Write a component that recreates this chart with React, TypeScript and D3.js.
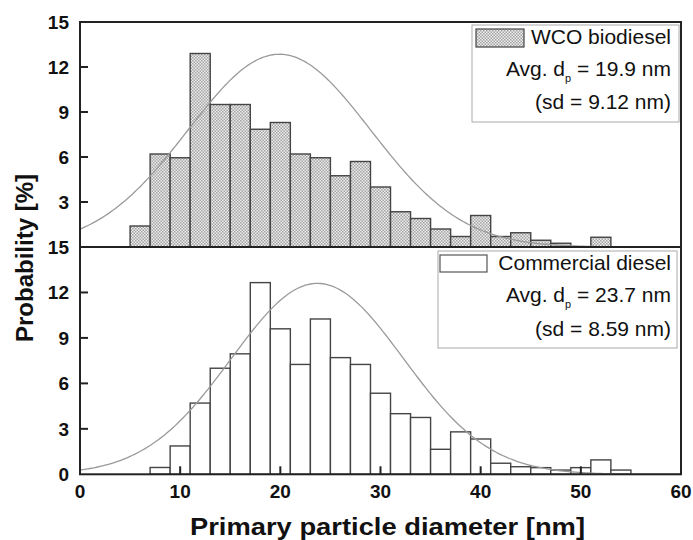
import React from 'react';
import * as d3 from 'd3';

// ---- data ----
const xTicks = [0, 10, 20, 30, 40, 50, 60];
const yTicks = [0, 3, 6, 9, 12, 15];
const binWidth = 2;

const wcoBinStart = [5, 7, 9, 11, 13, 15, 17, 19, 21, 23, 25, 27, 29, 31, 33, 35, 37, 39, 41, 43, 45, 47, 49, 51];
const wcoProb = [1.4, 6.2, 5.95, 12.9, 9.5, 9.5, 7.85, 8.3, 6.2, 5.95, 4.75, 5.7, 4.0, 2.35, 1.9, 1.2, 0.7, 2.1, 0.7, 0.95, 0.45, 0.25, 0, 0.65];

const dieselBinStart = [7, 9, 11, 13, 15, 17, 19, 21, 23, 25, 27, 29, 31, 33, 35, 37, 39, 41, 43, 45, 47, 49, 51, 53];
const dieselProb = [0.45, 1.87, 4.7, 7.0, 7.95, 12.65, 9.6, 7.25, 10.25, 7.7, 7.25, 5.35, 4.0, 3.75, 1.65, 2.8, 2.33, 0.73, 0.5, 0.44, 0.28, 0.44, 0.95, 0.28];

// Gaussian fit parameters (mean / sd from the legends, peak height)
const wcoFit = { mean: 19.9, sd: 9.12, peak: 12.85 };
const dieselFit = { mean: 23.7, sd: 8.59, peak: 12.6 };

const legendLabels = ['WCO biodiesel', 'Commercial diesel'];
const avgLabels = ['19.9', '23.7'];
const sdLabels = ['9.12', '8.59'];

const FONT = '"Liberation Sans", Arial, Helvetica, sans-serif';

export default function App() {
  const W = 693, H = 540;
  const left = 80, right = 681;
  const top1 = 22, mid = 247, bottom2 = 474.3;

  const x = d3.scaleLinear().domain([0, 60]).range([left, right]);
  const yTop = d3.scaleLinear().domain([0, 15]).range([mid, top1]);
  const yBot = d3.scaleLinear().domain([0, 15]).range([bottom2, mid]);

  const samples = d3.range(0, 60.001, 0.25);
  const gauss = (f: { mean: number; sd: number; peak: number }, v: number) =>
    f.peak * Math.exp(-((v - f.mean) ** 2) / (2 * f.sd * f.sd));

  const lineTop = d3.line<number>().x((v) => x(v)).y((v) => yTop(gauss(wcoFit, v)));
  const lineBot = d3.line<number>().x((v) => x(v)).y((v) => yBot(gauss(dieselFit, v)));

  const LF = 21;

  return (
    <svg width={W} height={H} style={{ position: 'absolute', left: 0, top: 0, background: '#fff' }} fontFamily={FONT}>
      <defs>
        <pattern id="chk" width="3" height="3" patternUnits="userSpaceOnUse">
          <rect width="3" height="3" fill="#efefef" />
          <rect width="1.5" height="1.5" fill="#a2a2a2" />
          <rect x="1.5" y="1.5" width="1.5" height="1.5" fill="#a2a2a2" />
        </pattern>
      </defs>

      {/* top panel bars */}
      {wcoBinStart.map((b, i) =>
        wcoProb[i] > 0 ? (
          <rect
            key={'w' + i}
            x={x(b)}
            y={yTop(wcoProb[i])}
            width={x(b + binWidth) - x(b)}
            height={yTop(0) - yTop(wcoProb[i])}
            fill="url(#chk)"
            stroke="#444"
            strokeWidth={1.4}
          />
        ) : null
      )}
      {/* bottom panel bars */}
      {dieselBinStart.map((b, i) => (
        <rect
          key={'d' + i}
          x={x(b)}
          y={yBot(dieselProb[i])}
          width={x(b + binWidth) - x(b)}
          height={yBot(0) - yBot(dieselProb[i])}
          fill="#fff"
          stroke="#444"
          strokeWidth={1.4}
        />
      ))}

      {/* fit curves */}
      <path d={lineTop(samples) || ''} fill="none" stroke="#9a9a9a" strokeWidth={1.3} />
      <path d={lineBot(samples) || ''} fill="none" stroke="#9a9a9a" strokeWidth={1.3} />

      {/* frame */}
      <rect x={left} y={top1} width={right - left} height={bottom2 - top1} fill="none" stroke="#222" strokeWidth={2} />
      <line x1={left} x2={right} y1={mid} y2={mid} stroke="#222" strokeWidth={2} />

      {/* y ticks top panel */}
      {yTicks.filter((t) => t > 0 && t < 15).map((t) => (
        <line key={'yt' + t} x1={left} x2={left + 8} y1={yTop(t)} y2={yTop(t)} stroke="#222" strokeWidth={2} />
      ))}
      {yTicks.filter((t) => t > 0).map((t) => (
        <text key={'ytl' + t} x={69} y={yTop(t)} dy="0.36em" textAnchor="end" fontSize={19} fontWeight="bold" fill="#111">
          {t}
        </text>
      ))}
      {/* y ticks bottom panel */}
      {yTicks.filter((t) => t > 0 && t < 15).map((t) => (
        <line key={'yb' + t} x1={left} x2={left + 8} y1={yBot(t)} y2={yBot(t)} stroke="#222" strokeWidth={2} />
      ))}
      {yTicks.map((t) => (
        <text key={'ybl' + t} x={69} y={yBot(t)} dy="0.36em" textAnchor="end" fontSize={19} fontWeight="bold" fill="#111">
          {t}
        </text>
      ))}

      {/* x ticks */}
      {xTicks.filter((t) => t > 0 && t < 60).map((t) => (
        <line key={'xt' + t} x1={x(t)} x2={x(t)} y1={bottom2} y2={bottom2 - 8} stroke="#222" strokeWidth={2} />
      ))}
      {xTicks.map((t) => (
        <text key={'xtl' + t} x={x(t)} y={498} textAnchor="middle" fontSize={19} fontWeight="bold" fill="#111">
          {t}
        </text>
      ))}

      {/* axis titles */}
      <text x={190} y={535} fontSize={24} fontWeight="bold" fill="#111" textLength={395} lengthAdjust="spacingAndGlyphs">
        Primary particle diameter [nm]
      </text>
      <text transform={`translate(33, 258) rotate(-90)`} textAnchor="middle" fontSize={24} fontWeight="bold" fill="#111">
        Probability [%]
      </text>

      {/* legend top */}
      <rect x={472} y={25} width={207} height={97} fill="none" stroke="#aaa" strokeWidth={1} />
      <rect x={476} y={29} width={48} height={18} fill="url(#chk)" stroke="#444" strokeWidth={1.2} />
      <text x={671} y={44} textAnchor="end" fontSize={LF} fill="#111">{legendLabels[0]}</text>
      <text x={671} y={76} textAnchor="end" fontSize={LF} fill="#111">
        Avg. d<tspan fontSize={11} dy={6}>p</tspan><tspan dy={-6}> = {avgLabels[0]} nm</tspan>
      </text>
      <text x={671} y={109} textAnchor="end" fontSize={LF} fill="#111">(sd = {sdLabels[0]} nm)</text>

      {/* legend bottom */}
      <rect x={438} y={251} width={239} height={97} fill="none" stroke="#aaa" strokeWidth={1} />
      <rect x={440} y={255} width={47} height={17} fill="#fff" stroke="#555" strokeWidth={1.2} />
      <text x={671} y={270} textAnchor="end" fontSize={LF} fill="#111">{legendLabels[1]}</text>
      <text x={671} y={302} textAnchor="end" fontSize={LF} fill="#111">
        Avg. d<tspan fontSize={11} dy={6}>p</tspan><tspan dy={-6}> = {avgLabels[1]} nm</tspan>
      </text>
      <text x={671} y={336} textAnchor="end" fontSize={LF} fill="#111">(sd = {sdLabels[1]} nm)</text>
    </svg>
  );
}
